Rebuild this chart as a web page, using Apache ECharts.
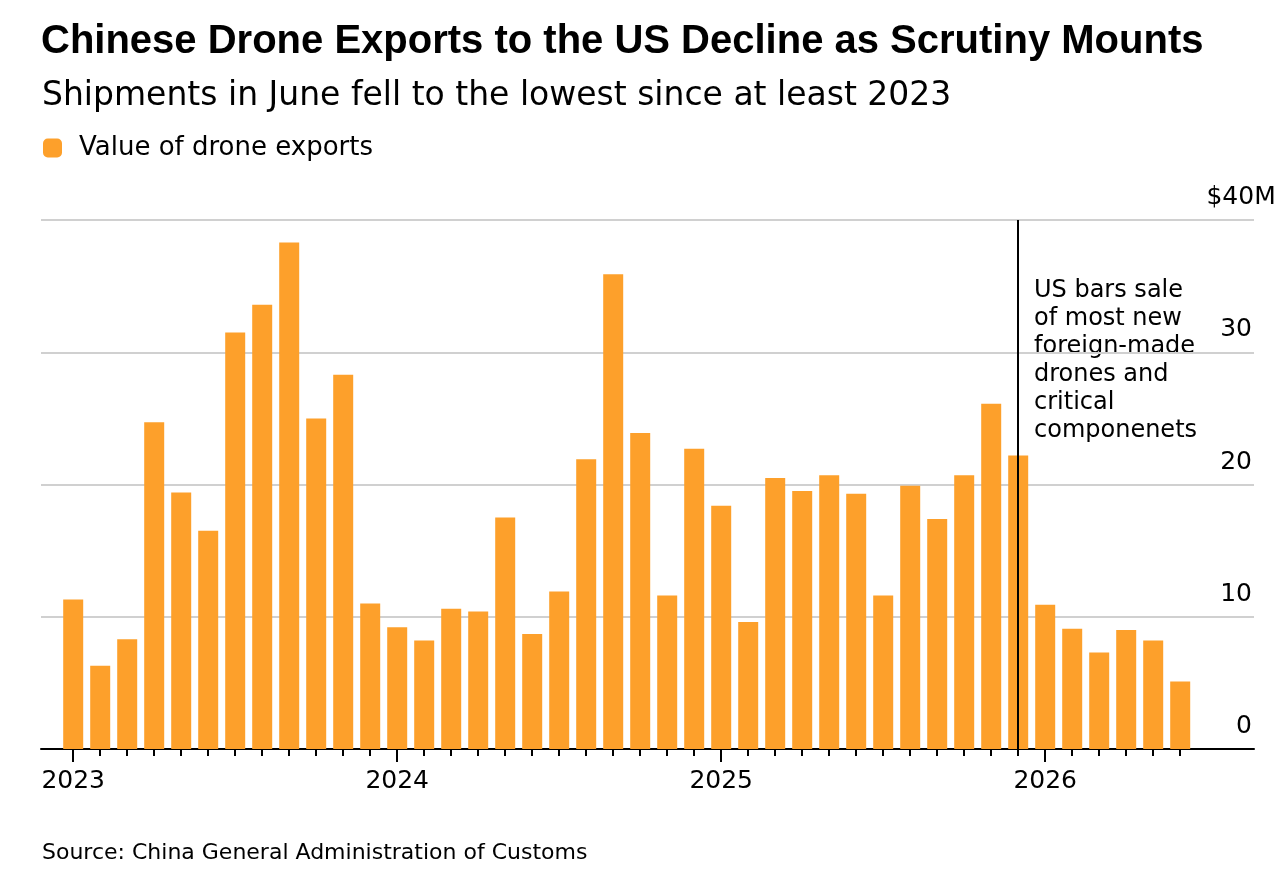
<!DOCTYPE html>
<html>
<head>
<meta charset="utf-8">
<title>Chinese Drone Exports to the US</title>
<script src="https://cdn.jsdelivr.net/npm/echarts@6/dist/echarts.min.js"></script>
<style>
  html, body { margin: 0; padding: 0; background: #fff; }
  #chart { width: 1288px; height: 882px; }
</style>
</head>
<body>
<div id="chart"></div>
<script>
// monthly export value, $M
const months = [
  '2023-01','2023-02','2023-03','2023-04','2023-05','2023-06','2023-07','2023-08','2023-09','2023-10','2023-11','2023-12',
  '2024-01','2024-02','2024-03','2024-04','2024-05','2024-06','2024-07','2024-08','2024-09','2024-10','2024-11','2024-12',
  '2025-01','2025-02','2025-03','2025-04','2025-05','2025-06','2025-07','2025-08','2025-09','2025-10','2025-11','2025-12',
  '2026-01','2026-02','2026-03','2026-04','2026-05','2026-06'
];
const exportValues = [
  11.3, 6.3, 8.3, 24.7, 19.4, 16.5, 31.5, 33.6, 38.3, 25.0, 28.3, 11.0,
  9.2, 8.2, 10.6, 10.4, 17.5, 8.7, 11.9, 21.9, 35.9, 23.9, 11.6, 22.7,
  18.4, 9.6, 20.5, 19.5, 20.7, 19.3, 11.6, 19.9, 17.4, 20.7, 26.1, 22.2,
  10.9, 9.1, 7.3, 9.0, 8.2, 5.1
];
const yTicks = [0, 10, 20, 30, 40];
const eventMonth = '2025-12';
const eventNote = ['US bars sale', 'of most new', 'foreign-made', 'drones and', 'critical', 'componenets'];

const FONT = '"DejaVu Sans", sans-serif';
const TITLE_FONT = '"Liberation Sans", Arial, sans-serif';
const ORANGE = '#fda02b';

var chart = echarts.init(document.getElementById('chart'), null, {renderer: 'canvas'});

var isJan = function (idx, val) { return String(val).slice(5) === '01'; };
var yMin = yTicks[0], yMax = yTicks[yTicks.length - 1], yStep = yTicks[1] - yTicks[0];

chart.setOption({
  animation: false,
  backgroundColor: '#fff',
  textStyle: {fontFamily: FONT},
  title: [
    {
      text: 'Chinese Drone Exports to the US Decline as Scrutiny Mounts',
      left: 36, top: 17,
      textStyle: {fontFamily: TITLE_FONT, fontSize: 40, fontWeight: 'bold', color: '#000'}
    },
    {
      text: 'Shipments in June fell to the lowest since at least 2023',
      left: 37, top: 75,
      textStyle: {fontFamily: FONT, fontSize: 33, fontWeight: 'normal', color: '#000'}
    },
    {
      text: 'Source: China General Administration of Customs',
      left: 37, top: 837,
      textStyle: {fontFamily: FONT, fontSize: 22, fontWeight: 'normal', color: '#000'}
    }
  ],
  legend: {
    left: 43, top: 135, padding: 0,
    icon: 'roundRect',
    itemWidth: 19, itemHeight: 19,
    textStyle: {fontFamily: FONT, fontSize: 26, color: '#000', padding: [0, 0, 0, 12]},
    data: ['Value of drone exports']
  },
  grid: [
    // gridlines + baseline span the full plot width
    {left: 41, right: 34, top: 220, bottom: 133, outerBoundsMode: 'none'},
    // the bars themselves
    {left: 59.7, width: 1134, top: 220, bottom: 133, outerBoundsMode: 'none'}
  ],
  xAxis: [
    {
      gridIndex: 0, type: 'value', min: 0, max: 1,
      axisLine: {show: true, lineStyle: {color: '#000', width: 2}},
      axisTick: {show: false}, axisLabel: {show: false}, splitLine: {show: false}
    },
    {
      gridIndex: 1, type: 'category', data: months, position: 'bottom',
      axisLine: {show: false},
      axisTick: {show: true, alignWithLabel: true, interval: 0, length: 7, lineStyle: {color: '#000', width: 2}},
      axisLabel: {show: false}
    },
    {
      gridIndex: 1, type: 'category', data: months, position: 'bottom',
      axisLine: {show: false},
      axisTick: {show: true, alignWithLabel: true, interval: isJan, length: 13, lineStyle: {color: '#000', width: 2}},
      axisLabel: {
        interval: isJan, margin: 20,
        formatter: function (v) { return v.slice(0, 4); },
        fontFamily: FONT, fontSize: 25, color: '#000'
      }
    }
  ],
  yAxis: [
    {
      gridIndex: 0, type: 'value', min: yMin, max: yMax, interval: yStep, position: 'right',
      axisLine: {show: false}, axisTick: {show: false},
      splitLine: {show: true, lineStyle: {color: '#d0d0d0', width: 2}},
      axisLabel: {
        inside: true, margin: 2, verticalAlign: 'bottom', padding: [0, 0, 10, 0],
        fontFamily: FONT, fontSize: 25, color: '#000',
        formatter: function (v) { return v === yMax ? '' : String(v); }
      }
    },
    {
      gridIndex: 1, type: 'value', min: yMin, max: yMax, interval: yStep, position: 'right',
      axisLine: {show: false}, axisTick: {show: false}, splitLine: {show: false},
      axisLabel: {
        align: 'right', margin: 82, verticalAlign: 'bottom', padding: [0, 0, 10, 0],
        fontFamily: FONT, fontSize: 25, color: '#000',
        formatter: function (v) { return v === yMax ? '$' + v + 'M' : ''; }
      }
    }
  ],
  series: [{
    name: 'Value of drone exports',
    type: 'bar',
    xAxisIndex: 1, yAxisIndex: 1,
    barWidth: 20,
    itemStyle: {color: ORANGE},
    data: exportValues,
    markLine: {
      silent: true,
      symbol: ['none', 'none'],
      label: {show: false},
      lineStyle: {color: '#000', width: 2, type: 'solid'},
      data: [{xAxis: eventMonth}]
    }
  }],
  graphic: [{
    type: 'text',
    left: 1034, top: 277,
    style: {
      text: eventNote.join('\n'),
      fontFamily: FONT, fontSize: 24, lineHeight: 28, fill: '#000'
    }
  }]
});
</script>
</body>
</html>
